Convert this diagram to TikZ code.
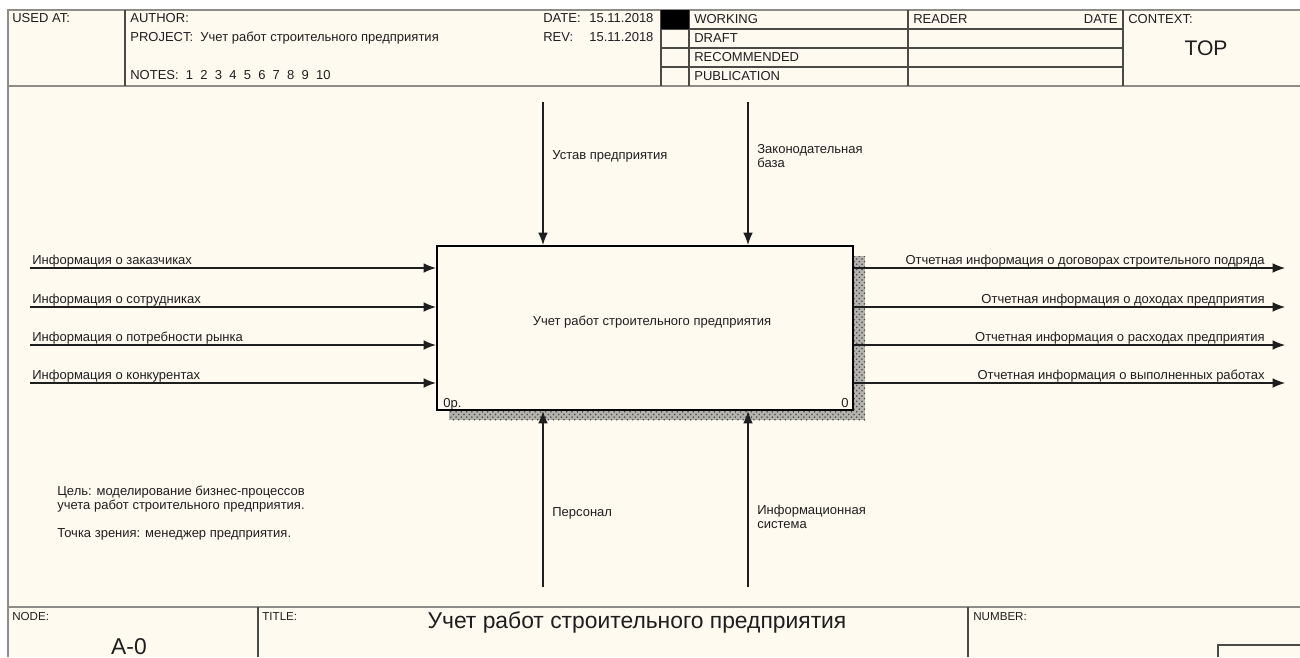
\documentclass[tikz,border=0pt]{standalone}
\usepackage{fontspec}
\setmainfont{Liberation Sans}
\usetikzlibrary{arrows.meta,patterns}
\definecolor{cPaper}{HTML}{FFFAF0}
\definecolor{cFrame}{HTML}{8E8C86}
\definecolor{cRule}{HTML}{4A4A46}
\definecolor{cInk}{HTML}{1E1E1E}
\definecolor{cShade}{HTML}{B4B2AC}
\tikzset{
  lbl/.style   = {inner sep=0pt, text=cInk, align=left,
                  font=\fontsize{7.4}{7.9}\selectfont},
  big/.style   = {inner sep=0pt, text=cInk, font=\fontsize{13}{15}\selectfont},
  frame/.style = {cFrame, line width=1.2pt},
  rule/.style  = {cRule, line width=0.8pt},
  arr/.style   = {cInk, line width=0.6pt, -{Latex[length=7pt,width=5.5pt]}},
  fnbox/.style = {draw=black, line width=1.3pt, fill=cPaper, inner sep=0pt,
                  minimum width=83.2mm, minimum height=32.8mm},
  shade/.style = {fill=cShade, postaction={pattern=crosshatch dots, pattern color=cRule}},
}

\begin{document}
\begin{tikzpicture}[x=0.2mm, y=-0.2mm]
  \useasboundingbox (0,0) rectangle (1300,657);
  % sheet
  \fill[white] (0,0) rectangle (1300,657);
  \fill[cPaper] (8,10) rectangle (1300,657);
  \draw[frame] (8,657) -- (8,10) -- (1300,10);
  \draw[frame] (8,86) -- (1300,86);
  \draw[frame] (8,607) -- (1300,607);
  % header grid
  \draw[rule] (125,10) -- (125,86);
  \draw[rule] (661,10) -- (661,86);
  \draw[rule] (689,10) -- (689,86);
  \draw[rule] (908,10) -- (908,86);
  \draw[rule] (1123,10) -- (1123,86);
  \draw[rule] (661,29) -- (1123,29);
  \draw[rule] (661,48) -- (1123,48);
  \draw[rule] (661,67) -- (1123,67);
  \fill[black] (661,10) rectangle (689,29);
  % header texts
  \node[lbl, anchor=base west] (usedat) at (12,22) {USED AT:};
  \node[lbl, anchor=base west] (author) at (130,22) {AUTHOR:};
  \node[lbl, anchor=base west] (project) at (130,41) {PROJECT:\ \ Учет работ строительного предприятия};
  \node[lbl, anchor=base west] (notes) at (130,79) {NOTES:\ \ 1\ \ 2\ \ 3\ \ 4\ \ 5\ \ 6\ \ 7\ \ 8\ \ 9\ \ 10};
  \node[lbl, anchor=base west] (date) at (543,22) {DATE:};
  \node[lbl, anchor=base west] (dateval) at (589,22) {15.11.2018};
  \node[lbl, anchor=base west] (rev) at (543,41) {REV:};
  \node[lbl, anchor=base west] (revval) at (589,41) {15.11.2018};
  \node[lbl, anchor=base west] (working) at (694,23) {WORKING};
  \node[lbl, anchor=base west] (draft) at (694,42) {DRAFT};
  \node[lbl, anchor=base west] (recomm) at (694,61) {RECOMMENDED};
  \node[lbl, anchor=base west] (public) at (694,80) {PUBLICATION};
  \node[lbl, anchor=base west] (reader) at (913,23) {READER};
  \node[lbl, anchor=base east] (rdate) at (1118,23) {DATE};
  \node[lbl, anchor=base west] (context) at (1128,23) {CONTEXT:};
  \node[big, font=\fontsize{12}{14}\selectfont] (top) at (1206,48) {TOP};
  % activity box with shadow
  \fill[shade] (449,256) rectangle (865,420);
  \node[fnbox] (a0) at (645,328) {};
  \node[lbl] (a0txt) at (652,322) {Учет работ строительного предприятия};
  \node[lbl, anchor=base west] (a0cost) at (443,407) {0р.};
  \node[lbl, anchor=base east] (a0num) at (849,407) {0};
  % inputs
  \coordinate (in1) at (30,268);
  \coordinate (in2) at (30,307);
  \coordinate (in3) at (30,345);
  \coordinate (in4) at (30,383);
  \draw[arr] (in1) -- (in1 -| a0.west);
  \draw[arr] (in2) -- (in2 -| a0.west);
  \draw[arr] (in3) -- (in3 -| a0.west);
  \draw[arr] (in4) -- (in4 -| a0.west);
  \node[lbl, anchor=base west] (in1l) at (32,264) {Информация о заказчиках};
  \node[lbl, anchor=base west] (in2l) at (32,303) {Информация о сотрудниках};
  \node[lbl, anchor=base west] (in3l) at (32,341) {Информация о потребности рынка};
  \node[lbl, anchor=base west] (in4l) at (32,379) {Информация о конкурентах};
  % outputs
  \coordinate (out1) at (1285,268);
  \coordinate (out2) at (1285,307);
  \coordinate (out3) at (1285,345);
  \coordinate (out4) at (1285,383);
  \draw[arr] (out1 -| a0.east) -- (out1);
  \draw[arr] (out2 -| a0.east) -- (out2);
  \draw[arr] (out3 -| a0.east) -- (out3);
  \draw[arr] (out4 -| a0.east) -- (out4);
  \node[lbl, anchor=base east] (out1l) at (1265,264) {Отчетная информация о договорах строительного подряда};
  \node[lbl, anchor=base east] (out2l) at (1265,303) {Отчетная информация о доходах предприятия};
  \node[lbl, anchor=base east] (out3l) at (1265,341) {Отчетная информация о расходах предприятия};
  \node[lbl, anchor=base east] (out4l) at (1265,379) {Отчетная информация о выполненных работах};
  % controls
  \coordinate (ct1) at (543,102);
  \coordinate (ct2) at (748,102);
  \draw[arr] (ct1) -- (ct1 |- a0.north);
  \draw[arr] (ct2) -- (ct2 |- a0.north);
  \node[lbl, anchor=base west] (ct1l) at (552,159) {Устав предприятия};
  \node[lbl, anchor=base west] (ct2l) at (757,167) {Законодательная\\база};
  % mechanisms
  \coordinate (mc1) at (543,587);
  \coordinate (mc2) at (748,587);
  \draw[arr] (mc1) -- (mc1 |- a0.south);
  \draw[arr] (mc2) -- (mc2 |- a0.south);
  \node[lbl, anchor=base west] (mc1l) at (552,516) {Персонал};
  \node[lbl, anchor=base west] (mc2l) at (757,528) {Информационная\\система};
  % purpose and viewpoint
  \node[lbl, anchor=base west] (purpose) at (57,537) {Цель: моделирование бизнес-процессов\\учета работ строительного предприятия.\\[7.9pt]Точка зрения: менеджер предприятия.};
  % footer
  \draw[rule] (258,607) -- (258,657);
  \draw[rule] (968,607) -- (968,657);
  \draw[rule] (1218,657) -- (1218,645) -- (1300,645);
  \node[lbl, anchor=base west, font=\fontsize{6.6}{7}\selectfont] (nodelbl) at (12,620) {NODE:};
  \node[big, anchor=base] (nodeval) at (129,654) {A-0};
  \node[lbl, anchor=base west, font=\fontsize{6.6}{7}\selectfont] (titlelbl) at (262,620) {TITLE:};
  \node[big] (title) at (637,622) {Учет работ строительного предприятия};
  \node[lbl, anchor=base west, font=\fontsize{6.6}{7}\selectfont] (numlbl) at (973,620) {NUMBER:};
\end{tikzpicture}
\end{document}
